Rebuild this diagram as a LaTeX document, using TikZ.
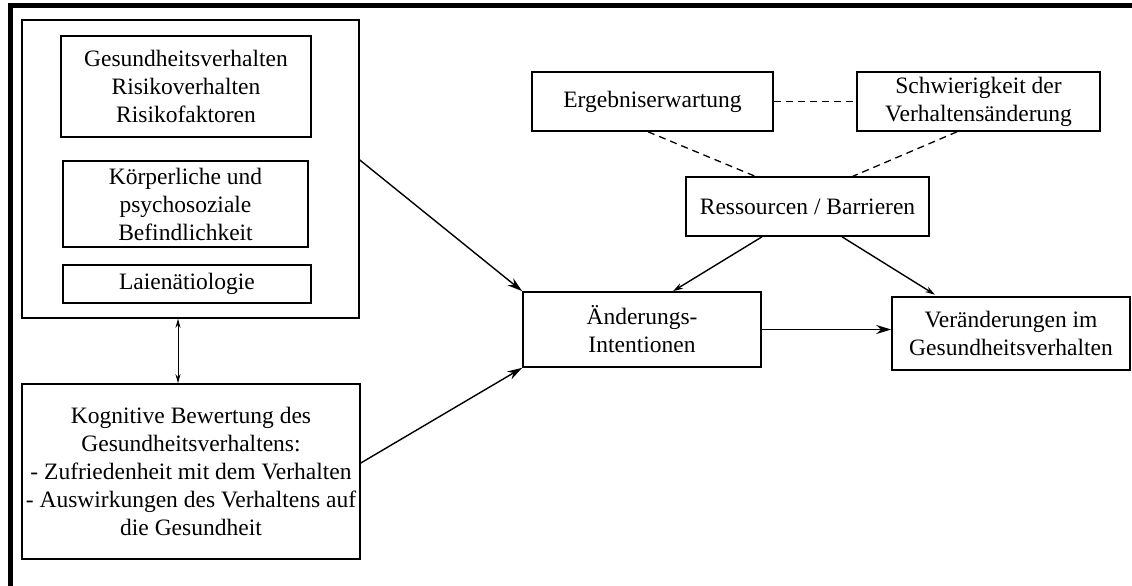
\documentclass[tikz,border=0pt]{standalone}
\usepackage{fontspec}
\setmainfont{Liberation Serif}
\usetikzlibrary{arrows.meta,calc}

\tikzset{
  box/.style={draw, line width=1.6pt, inner sep=0pt, align=center,
    font=\fontsize{23.5}{28}\selectfont},
  bigarrow/.style={line width=1.4pt, -{Stealth[length=15pt,width=9pt]}},
  smallarrow/.style={line width=1.4pt, -{Stealth[length=10pt,width=6pt]}},
  bothways/.style={line width=1pt, {Stealth[length=9pt,width=5pt]}-{Stealth[length=9pt,width=5pt]}},
  link/.style={line width=1.3pt, dash pattern=on 7pt off 5pt},
}

\begin{document}
\begin{tikzpicture}[x=1pt, y=-1pt]
  \useasboundingbox (0,0) rectangle (1132,586);

  % page frame
  \draw[line width=5pt] (10.5,586) -- (10.5,5.5) -- (1132,5.5);

  % left column
  \node[box, minimum width=337pt, minimum height=298pt] (outer) at (190.5,169) {};
  \node[box, minimum width=250pt, minimum height=101pt] (gv) at (186,86.5)
    {Gesundheitsverhalten\\Risikoverhalten\\Risikofaktoren};
  \node[box, minimum width=245pt, minimum height=86pt] (kb) at (185.5,204)
    {Körperliche und\\psychosoziale\\Befindlichkeit};
  \node[box, minimum width=248pt, minimum height=38pt] (la) at (187,284)
    {Laienätiologie};
  \node[box, minimum width=338pt, minimum height=175pt] (kog) at (191,471.5)
    {Kognitive Bewertung des\\Gesundheitsverhaltens:\\- Zufriedenheit mit dem Verhalten\\- Auswirkungen des Verhaltens auf\\die Gesundheit};

  % right part
  \node[box, minimum width=241pt, minimum height=59pt] (eg) at (652.5,101.5)
    {Ergebniserwartung};
  \node[box, minimum width=243pt, minimum height=59pt] (sv) at (978.5,101.5)
    {Schwierigkeit der\\Verhaltensänderung};
  \node[box, minimum width=243pt, minimum height=59pt] (rb) at (807.5,206.5)
    {Ressourcen / Barrieren};
  \node[box, minimum width=238pt, minimum height=75pt] (ai) at (642,329.5)
    {Änderungs-\\Intentionen};
  \node[box, minimum width=238pt, minimum height=73pt] (vg) at (1011,333.5)
    {Veränderungen im\\Gesundheitsverhalten};

  % connectors
  \coordinate (linkstart) at ($(outer.south)+(-12.5,0)$);
  \draw[bothways] (linkstart) -- (linkstart |- kog.north);
  \draw[bigarrow] ($(outer.east)+(0,-9)$) -- (ai.north west);
  \draw[bigarrow] ($(kog.east)+(0,-8.5)$) -- (ai.south west);
  \draw[bigarrow] (ai.east) -- (ai.east -| vg.west);
  \draw[smallarrow] ($(rb.south)+(-45.5,0)$) -- ($(ai.north)+(31,0)$);
  \draw[smallarrow] ($(rb.south)+(34.5,0)$) -- ($(vg.north)+(-76,-1.5)$);

  \draw[link] (eg.east) -- (sv.west);
  \draw[link] ($(eg.south)+(-4.5,0)$) -- ($(rb.north)+(-52.5,0)$);
  \draw[link] ($(sv.south)+(-21.5,0)$) -- ($(rb.north)+(45.5,0)$);
\end{tikzpicture}
\end{document}
